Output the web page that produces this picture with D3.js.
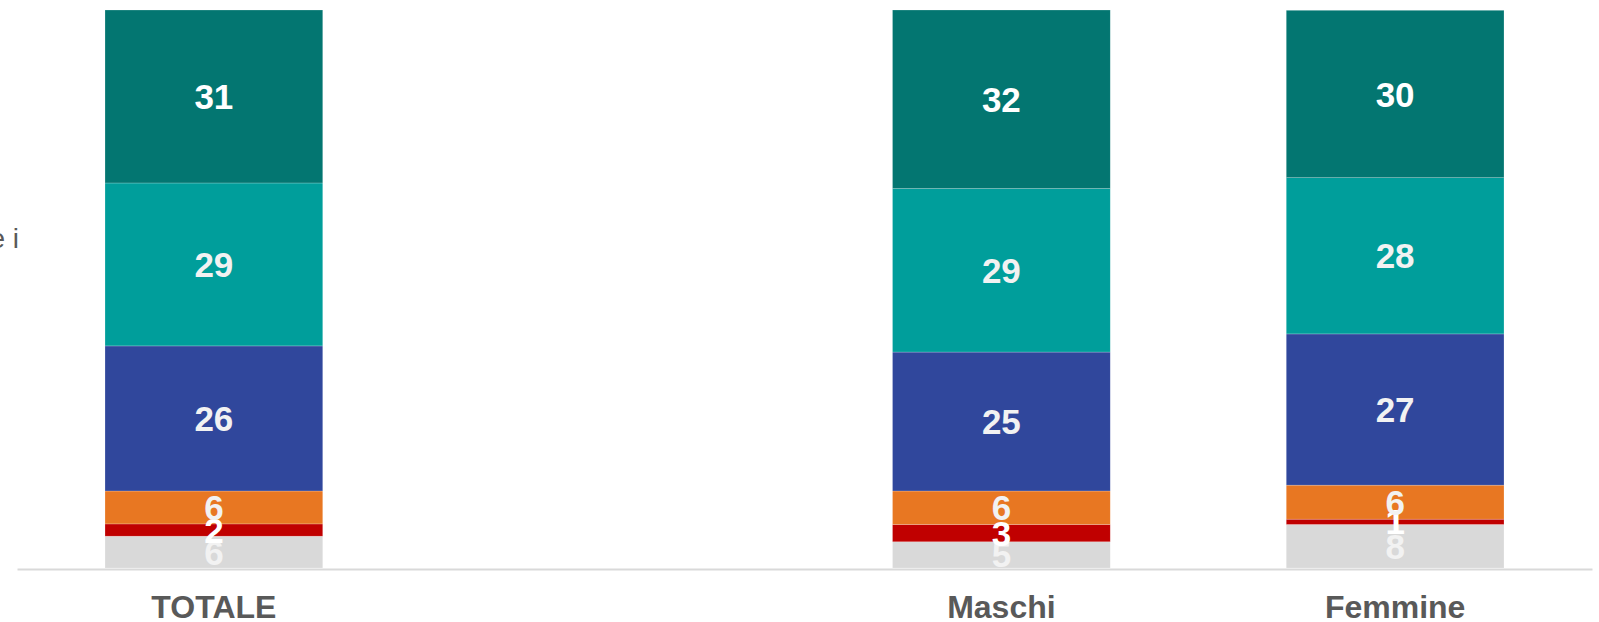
<!DOCTYPE html>
<html>
<head>
<meta charset="utf-8">
<script src="https://cdn.jsdelivr.net/npm/d3@7"></script>
<style>
  html, body { margin: 0; padding: 0; background: #ffffff; }
  svg { display: block; font-family: Arial, "Liberation Sans", sans-serif; }
</style>
</head>
<body>
<svg id="chart" width="1599" height="622"></svg>
<script>
// Data
const categories = ["TOTALE", "", "Maschi", "Femmine"];
const seriesNames = ["s1", "s2", "s3", "s4", "s5", "s6"]; // bottom to top
const seriesColors = ["#d9d9d9", "#c00000", "#e87722", "#30479c", "#009e9b", "#037671"];
const labelColors = ["#f2f2f2", "#ffffff", "#f2f2f2", "#f2f2f2", "#f2f2f2", "#ffffff"];
const totaleValues  = [5.7, 2.2, 5.9, 26.0, 29.2, 31.0];
const maschiValues  = [4.7, 3.1, 6.0, 24.9, 29.3, 32.0];
const femmineValues = [7.8, 0.95, 6.1, 27.1, 28.0, 30.0];
const totaleLabels  = [6, 2, 6, 26, 29, 31];
const maschiLabels  = [5, 3, 6, 25, 29, 32];
const femmineLabels = [8, 1, 6, 27, 28, 30];

const rows = [
  { cat: "TOTALE", values: totaleValues, labels: totaleLabels },
  { cat: "Maschi", values: maschiValues, labels: maschiLabels },
  { cat: "Femmine", values: femmineValues, labels: femmineLabels }
];

const svg = d3.select("#chart");
const slotKeys = categories.map((c, i) => c === "" ? "__gap" + i : c);

const x = d3.scaleBand()
  .domain(slotKeys)
  .range([17, 1592])
  .paddingInner(0.447)
  .paddingOuter(0.2235);

const y = d3.scaleLinear().domain([0, 100]).range([568, 10]);

// Partial clipped text at left
svg.append("text")
  .attr("x", 19).attr("y", 248)
  .attr("text-anchor", "end")
  .attr("font-size", 28)
  .attr("fill", "#595959")
  .text("e i");

// Build stacked table
const table = rows.map(r => {
  const o = { cat: r.cat };
  seriesNames.forEach((s, i) => { o[s] = r.values[i]; o[s + "_label"] = r.labels[i]; });
  return o;
});
const stacked = d3.stack().keys(seriesNames)(table);

const g = svg.append("g");
stacked.forEach((layer, si) => {
  const lg = g.append("g").attr("fill", seriesColors[si]);
  lg.selectAll("rect").data(layer).join("rect")
    .attr("x", d => x(d.data.cat))
    .attr("width", x.bandwidth())
    .attr("y", d => y(d[1]))
    .attr("height", d => y(d[0]) - y(d[1]))
    .attr("stroke", "#ffffff")
    .attr("stroke-opacity", 0.35)
    .attr("stroke-width", 0.6);
});

// Labels (drawn after bars so they overlap)
stacked.forEach((layer, si) => {
  g.append("g").selectAll("text").data(layer).join("text")
    .attr("x", d => x(d.data.cat) + x.bandwidth() / 2)
    .attr("y", d => (y(d[0]) + y(d[1])) / 2)
    .attr("dy", "0.36em")
    .attr("text-anchor", "middle")
    .attr("font-size", 35)
    .attr("font-weight", "bold")
    .attr("fill", labelColors[si])
    .text(d => d.data[seriesNames[si] + "_label"]);
});

// Axis
const axis = d3.axisBottom(x)
  .tickSize(0)
  .tickPadding(0)
  .tickFormat(d => d.startsWith("__gap") ? "" : d);
const ag = svg.append("g").attr("transform", "translate(0,569)").call(axis);
ag.select(".domain").attr("stroke", "#d9d9d9").attr("stroke-width", 2);
ag.selectAll("text")
  .attr("y", 48.5)
  .attr("dy", 0)
  .attr("font-size", 32)
  .attr("font-weight", "bold")
  .attr("font-family", "Arial, 'Liberation Sans', sans-serif")
  .attr("fill", "#595959");
</script>
</body>
</html>
